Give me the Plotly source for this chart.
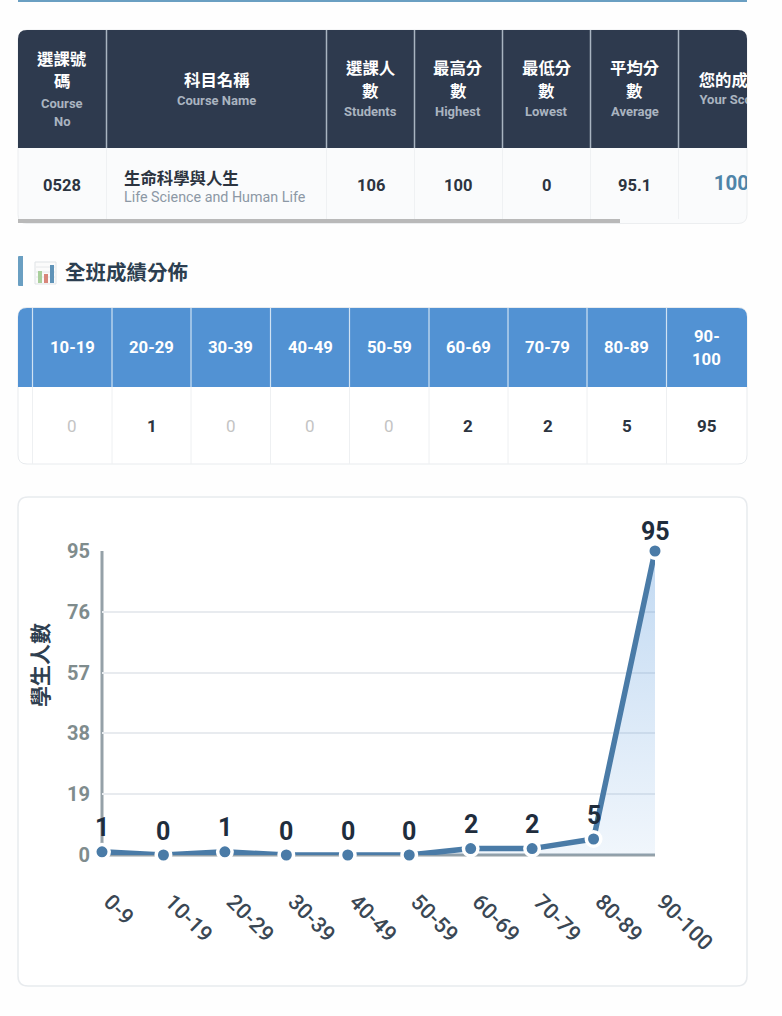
import plotly.graph_objects as go

W, H = 782, 1016
FONT = "Roboto, 'Noto Sans CJK TC', sans-serif"

# ---- chart data ----
bins = ["0-9", "10-19", "20-29", "30-39", "40-49", "50-59", "60-69", "70-79", "80-89", "90-100"]
counts = [1, 0, 1, 0, 0, 0, 2, 2, 5, 95]
y_ticks = [0, 19, 38, 57, 76, 95]
y_title = "學生人數"

# ---- course table ----
course_edges = [18, 106.5, 326.5, 414.5, 502.5, 590.5, 678.5, 783]
course_header_cjk = [["選課號", "碼"], ["科目名稱"], ["選課人", "數"], ["最高分", "數"],
                     ["最低分", "數"], ["平均分", "數"], ["您的成績"]]
course_header_en = [["Course", "No"], ["Course Name"], ["Students"], ["Highest"],
                    ["Lowest"], ["Average"], ["Your Score"]]
course_no = "0528"
course_name_zh = "生命科學與人生"
course_name_en = "Life Science and Human Life"
course_stats = ["106", "100", "0", "95.1"]
your_score = "100"

# ---- distribution table ----
section_title = "全班成績分佈"
dist_edges = [18, 32.5, 112, 191, 270.5, 349.5, 429, 508, 587, 666.5, 747]
dist_labels = ["10-19", "20-29", "30-39", "40-49", "50-59", "60-69", "70-79", "80-89", "90-<br>100"]
dist_values = counts[1:]


def px(x):
    return x / W


def py(y):
    return 1 - y / H


shapes = []
annots = []


def rrect_path(x0, y0, x1, y1, tl=0, tr=0, br=0, bl=0):
    return (f"M{px(x0 + tl)},{py(y0)} L{px(x1 - tr)},{py(y0)} Q{px(x1)},{py(y0)} {px(x1)},{py(y0 + tr)} "
            f"L{px(x1)},{py(y1 - br)} Q{px(x1)},{py(y1)} {px(x1 - br)},{py(y1)} "
            f"L{px(x0 + bl)},{py(y1)} Q{px(x0)},{py(y1)} {px(x0)},{py(y1 - bl)} "
            f"L{px(x0)},{py(y0 + tl)} Q{px(x0)},{py(y0)} {px(x0 + tl)},{py(y0)} Z")


def box(x0, y0, x1, y1, fill, line=None, lw=1, r=(0, 0, 0, 0)):
    shapes.append(dict(type="path", xref="paper", yref="paper", layer="below",
                       path=rrect_path(x0, y0, x1, y1, *r), fillcolor=fill,
                       line=dict(color=line or "rgba(0,0,0,0)", width=lw if line else 0)))


def seg(x0, y0, x1, y1, color, lw=1, layer="below"):
    shapes.append(dict(type="line", xref="paper", yref="paper", layer=layer,
                       x0=px(x0), x1=px(x1), y0=py(y0), y1=py(y1), line=dict(color=color, width=lw)))


def text(x, y, s, size, color, bold=True, anchor="center", angle=0):
    annots.append(dict(x=px(x), y=py(y), xref="paper", yref="paper", text=f"<b>{s}</b>" if bold else s,
                       showarrow=False, xanchor=anchor, yanchor="middle", textangle=angle,
                       font=dict(family=FONT, size=size, color=color)))


# top rule
box(18, 0, 747, 2, "#6a9fc2")

# ---- course table ----
box(18, 30, 747, 223.5, "#fafbfc", "#eceef0", 1, (9, 9, 9, 9))
box(18, 30, 747, 148, "#2e3a4e", None, 0, (9, 9, 0, 0))
for e in course_edges[1:-1]:
    seg(e, 30, e, 148, "#a9b4c1", 1.5)
    seg(e, 148, e, 219, "#eff1f3", 1)
box(18, 219, 620, 223, "#b9b9b9")

header_y = [
    ([59.5, 81.5], [103, 121]),
    ([80.5], [100]),
    ([68.5, 91.5], [111]),
    ([68.5, 91.5], [111]),
    ([68.5, 91.5], [111]),
    ([68.5, 91.5], [111]),
]
for i, (ys_c, ys_e) in enumerate(header_y):
    cx = (course_edges[i] + course_edges[i + 1]) / 2
    for s, y in zip(course_header_cjk[i], ys_c):
        text(cx, y, s, 16.4, "#ffffff")
    for s, y in zip(course_header_en[i], ys_e):
        text(cx, y, s, 13, "#aab4c0")

text((course_edges[0] + course_edges[1]) / 2, 185, course_no, 16.5, "#2c3440")
text(122, 178, course_name_zh, 16.4, "#2c3440", anchor="left")
text(122, 197, course_name_en, 14.3, "#8c98a5", bold=False, anchor="left")
for i, s in enumerate(course_stats):
    text((course_edges[i + 2] + course_edges[i + 3]) / 2, 185, s, 16.5, "#2c3440")

# ---- section heading ----
box(18, 256, 23, 286, "#6a9fc2", None, 0, (1, 0, 0, 1))
box(35, 262, 56, 284, "#fbfbfb", "#dfe3e6", 1)
for yy in (267, 272, 277):
    seg(36, yy, 55, yy, "#e6e8ea", 1)
box(38, 271, 42, 283, "#a9cf9c")
box(44, 274, 48, 283, "#d9867a")
box(50, 265, 54, 283, "#5f93b8")
text(63, 272.5, section_title, 20.5, "#2c3e50", anchor="left")

# ---- distribution table ----
box(18, 307.5, 747, 464, "#ffffff", "#e8ebee", 1, (9, 9, 9, 9))
box(18, 308, 747, 387, "#5292d3", None, 0, (9, 9, 0, 0))
for e in dist_edges[1:-1]:
    seg(e, 308, e, 387, "#cfe2f3", 1.2)
    seg(e, 387, e, 464, "#eef0f2", 1)
for i, s in enumerate(dist_labels):
    cx = (dist_edges[i + 1] + dist_edges[i + 2]) / 2
    if "<br>" in s:
        a, b = s.split("<br>")
        text(cx, 336.5, a, 16.7, "#ffffff")
        text(cx, 359, b, 16.7, "#ffffff")
    else:
        text(cx, 347, s, 16.7, "#ffffff")
    v = dist_values[i]
    if v == 0:
        text(cx, 426, str(v), 17, "#c4c4c4", bold=False)
    else:
        text(cx, 426, str(v), 17, "#2c3440")

# ---- chart card ----
box(18, 497, 747, 986, "#ffffff", "#e8ebee", 1.5, (10, 10, 10, 10))
text(41, 665, y_title, 21, "#2f3f50", angle=-90)

fig = go.Figure()
fig.add_trace(go.Scatter(
    x=bins, y=counts, mode="lines+markers", cliponaxis=False, showlegend=False, hoverinfo="skip",
    line=dict(color="#4a7ba7", width=5.5),
    marker=dict(size=14.5, color="#4a7ba7", line=dict(color="#ffffff", width=3.5)),
    fill="tozeroy",
    fillgradient=dict(type="vertical",
                      colorscale=[[0, "rgba(74,144,217,0.08)"], [1, "rgba(74,144,217,0.34)"]]),
))

# value labels above each point
top = max(counts)
for b, c in zip(bins, counts):
    annots.append(dict(x=b, y=c, xref="x", yref="y", text=f"<b>{c}</b>", showarrow=False,
                       yanchor="middle", xanchor="center", yshift=20 if c == top else 24,
                       font=dict(family=FONT, size=25, color="#1f2d3d")))

# clipped last column of the course table (overflowing a scrolling table)
col_cx = 731.5
fig.add_trace(go.Scatter(
    x=[col_cx], y=[82], xaxis="x2", yaxis="y2", mode="text", text=[f"<b>{course_header_cjk[6][0]}</b>"],
    textfont=dict(family=FONT, size=16.4, color="#ffffff"), showlegend=False, hoverinfo="skip", cliponaxis=True))
fig.add_trace(go.Scatter(
    x=[col_cx], y=[101], xaxis="x2", yaxis="y2", mode="text", text=[f"<b>{course_header_en[6][0]}</b>"],
    textfont=dict(family=FONT, size=13, color="#aab4c0"), showlegend=False, hoverinfo="skip", cliponaxis=True))
fig.add_trace(go.Scatter(
    x=[col_cx], y=[185], xaxis="x2", yaxis="y2", mode="text", text=[f"<b>{your_score}</b>"],
    textfont=dict(family=FONT, size=20.5, color="#4f84a8"), showlegend=False, hoverinfo="skip", cliponaxis=True))

# axis rails centred on the plot-area edges
seg(102, 551, 102, 855, "#95a1a8", 3)
seg(101, 855, 655, 855, "#95a1a8", 3)

fig.update_layout(
    width=W, height=H, margin=dict(l=0, r=0, t=0, b=0, autoexpand=False), autosize=False,
    paper_bgcolor="#fefefe", plot_bgcolor="rgba(0,0,0,0)",
    shapes=shapes, annotations=annots,
    font=dict(family=FONT),
    xaxis=dict(domain=[px(102), px(655)], type="category", categoryorder="array", categoryarray=bins,
               range=[0, 9], showgrid=False, zeroline=False, showline=False,
               tickangle=45, ticks="", ticklabelstandoff=29, ticklabelshift=8, automargin=False,
               tickfont=dict(family=FONT, size=21.5, color="#3a4754", weight=500)),
    yaxis=dict(domain=[py(855), py(551)], range=[0, 95], tickvals=y_ticks, ticktext=[str(t) for t in y_ticks],
               showgrid=True, gridcolor="#e8ebef", gridwidth=1.5, zeroline=False, automargin=False,
               showline=False, ticks="", ticklabelstandoff=11,
               tickfont=dict(family=FONT, size=20, color="#7f8c8d", weight="bold")),
    xaxis2=dict(domain=[px(18), px(747)], range=[18, 747], visible=False, anchor="y2", fixedrange=True),
    yaxis2=dict(domain=[py(223), py(30)], range=[223, 30], visible=False, anchor="x2", fixedrange=True),
)

fig.write_html("out.html", config=dict(displayModeBar=False, responsive=False),
               post_script="document.body.style.margin='0';document.body.style.background='#fefefe';")
